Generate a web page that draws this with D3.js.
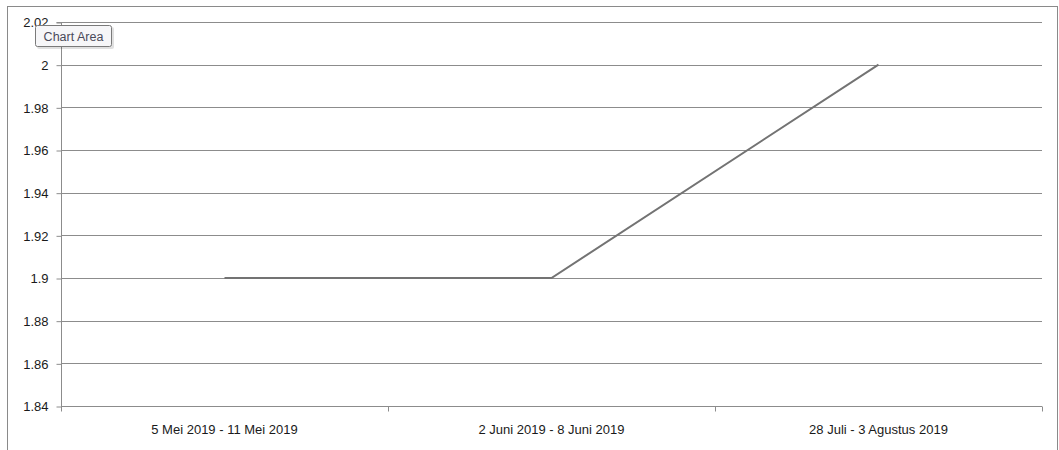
<!DOCTYPE html>
<html><head><meta charset="utf-8">
<script src="https://cdn.jsdelivr.net/npm/d3@7"></script>
<style>
html,body{margin:0;padding:0;background:#fff;}
svg{display:block;}
</style></head>
<body>
<svg id="chart" width="1059" height="450"></svg>
<script>
const categories = ["5 Mei 2019 - 11 Mei 2019", "2 Juni 2019 - 8 Juni 2019", "28 Juli - 3 Agustus 2019"];
const values = [1.9, 1.9, 2.0];
const yTicks = [1.84, 1.86, 1.88, 1.9, 1.92, 1.94, 1.96, 1.98, 2, 2.02];

const svg = d3.select("#chart");
const W = 1059, H = 450;
const m = {left: 61, right: 17, top: 22, bottom: 44};
const font = "Liberation Sans, Arial, sans-serif";

// chart area border
svg.append("rect").attr("x", 7.5).attr("y", 6.5).attr("width", 1050).attr("height", 460)
  .attr("fill", "#fff").attr("stroke", "#8a8a8a").attr("stroke-width", 1);

const x = d3.scaleBand().domain(categories).range([m.left, W - m.right]).padding(0);
const y = d3.scaleLinear().domain([1.84, 2.02]).range([H - m.bottom, m.top]);

// gridlines
svg.append("g").selectAll("line").data(yTicks.filter(d => d !== 1.84)).join("line")
  .attr("x1", m.left).attr("x2", W - m.right)
  .attr("y1", d => Math.round(y(d)) + 0.5).attr("y2", d => Math.round(y(d)) + 0.5)
  .attr("stroke", "#8c8c8c").attr("stroke-width", 1);

// y axis
const yAxis = d3.axisLeft(y).tickValues(yTicks).tickSize(5).tickPadding(8)
  .tickFormat(d => d3.format("")(+d.toFixed(2)));
const gy = svg.append("g").attr("transform", `translate(${m.left + 0.5},0.5)`).call(yAxis);
gy.select(".domain").attr("stroke", "#8c8c8c").attr("d", `M-5,${y(2.02)}H0V${y(1.84)}`);
gy.selectAll(".tick line").attr("stroke", "#8c8c8c");
gy.selectAll(".tick text").attr("fill", "#1a1a1a").style("font-family", font).style("font-size", "13px");

// x axis
const gx = svg.append("g").attr("transform", `translate(0,${Math.round(y(1.84)) + 0.5})`);
gx.append("line").attr("x1", m.left).attr("x2", W - m.right).attr("stroke", "#8c8c8c");
const bounds = [m.left, ...categories.map(c => x(c) + x.bandwidth())];
gx.selectAll("line.tk").data(bounds).join("line").attr("class", "tk")
  .attr("x1", d => Math.round(d) + 0.5).attr("x2", d => Math.round(d) + 0.5)
  .attr("y1", 0).attr("y2", 5).attr("stroke", "#8c8c8c");
gx.selectAll("text").data(categories).join("text")
  .attr("x", d => x(d) + x.bandwidth() / 2).attr("y", 27)
  .attr("text-anchor", "middle").attr("fill", "#1a1a1a")
  .style("font-family", font).style("font-size", "13px").text(d => d);

// line
const line = d3.line().x((d, i) => x(categories[i]) + x.bandwidth() / 2).y(d => y(d));
svg.append("path").datum(values).attr("d", line)
  .attr("fill", "none").attr("stroke", "#737373").attr("stroke-width", 2);

// tooltip "Chart Area"
const tt = svg.append("g").attr("transform", "translate(35,25)");
tt.append("rect").attr("x", 2).attr("y", 2).attr("width", 77).attr("height", 22).attr("fill", "#000").attr("opacity", 0.12).attr("rx", 2);
tt.append("rect").attr("x", 0.5).attr("y", 0.5).attr("width", 76).attr("height", 21).attr("rx", 2)
  .attr("fill", "#f6f6f8").attr("stroke", "#7a7a7a");
tt.append("text").attr("x", 38.5).attr("y", 15.5).attr("text-anchor", "middle").attr("fill", "#4a4a5a")
  .style("font-family", font).style("font-size", "12.5px").text("Chart Area");
</script>
</body></html>
